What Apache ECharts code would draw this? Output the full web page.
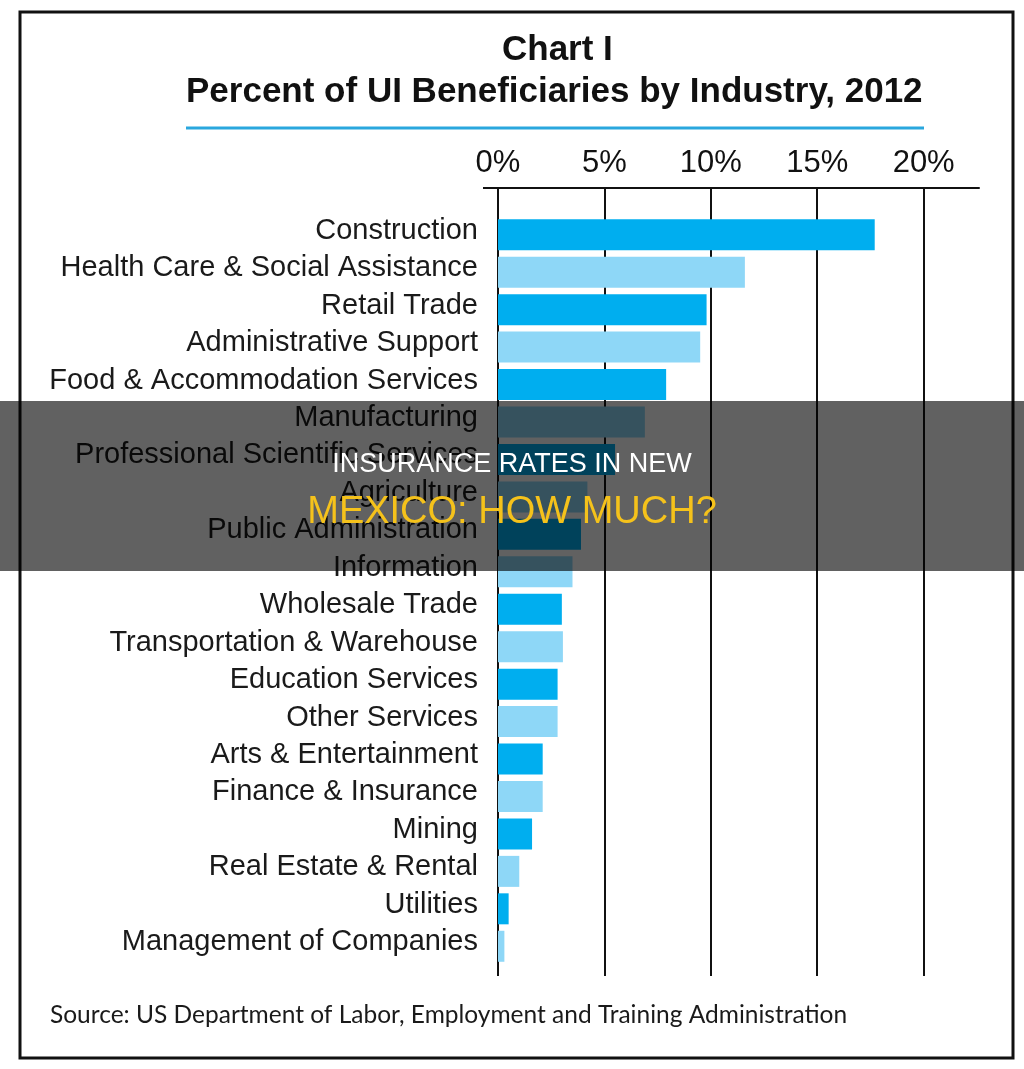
<!DOCTYPE html>
<html>
<head>
<meta charset="utf-8">
<script src="https://cdn.jsdelivr.net/npm/echarts@6/dist/echarts.min.js"></script>
<style>
  html, body { margin: 0; padding: 0; background: #fff; }
  #chart { width: 1024px; height: 1069px; }
</style>
</head>
<body>
<div id="chart"></div>
<script>
// industries, top to bottom
const industries = [
  "Construction",
  "Health Care & Social Assistance",
  "Retail Trade",
  "Administrative Support",
  "Food & Accommodation Services",
  "Manufacturing",
  "Professional Scientific Services",
  "Agriculture",
  "Public Administration",
  "Information",
  "Wholesale Trade",
  "Transportation & Warehouse",
  "Education Services",
  "Other Services",
  "Arts & Entertainment",
  "Finance & Insurance",
  "Mining",
  "Real Estate & Rental",
  "Utilities",
  "Management of Companies"
];

// percent of UI beneficiaries
const percents = [17.7, 11.6, 9.8, 9.5, 7.9, 6.9, 5.5, 4.2, 3.9, 3.5,
  3.0, 3.05, 2.8, 2.8, 2.1, 2.1, 1.6, 1.0, 0.5, 0.3];

const ticks = [0, 5, 10, 15, 20];
const axisMax = 22.6;

const titleLine1 = "Chart I";
const titleLine2 = "Percent of UI Beneficiaries by Industry, 2012";
const sourceText = "Source: US Department of Labor, Employment and Training Administration";
const bannerLine1 = "INSURANCE RATES IN NEW";
const bannerLine2 = "MEXICO: HOW MUCH?";

const barColors = ["#00AEEF", "#8ED7F7"];
const labelFont = "'Liberation Sans', Arial, sans-serif";

var chart = echarts.init(document.getElementById("chart"));

var option = {
  backgroundColor: "#fff",
  animation: false,
  title: [
    {
      text: titleLine1,
      left: 502,
      top: 33,
      padding: 0,
      textStyle: { fontFamily: labelFont, fontSize: 35, fontWeight: "bold", color: "#111" }
    },
    {
      text: titleLine2,
      left: 186,
      top: 75,
      padding: 0,
      textStyle: { fontFamily: labelFont, fontSize: 35, fontWeight: "bold", color: "#111" }
    }
  ],
  grid: [
    // grid 0 only carries the top axis and the vertical lines
    { left: 498, right: 45, top: 188, bottom: 93 },
    // grid 1 holds the bars
    { left: 498, right: 45, top: 216, bottom: 104 }
  ],
  xAxis: [
    {
      gridIndex: 0,
      type: "value",
      position: "top",
      min: 0,
      max: axisMax,
      interval: 5,
      axisLine: { show: true, onZero: false, lineStyle: { color: "#111", width: 2 } },
      axisTick: { show: false },
      axisLabel: {
        show: true,
        showMaxLabel: false,
        margin: 9,
        fontFamily: labelFont,
        fontSize: 31,
        color: "#111",
        formatter: function (v) {
          return ticks.indexOf(v) >= 0 ? v + "%" : "";
        }
      },
      splitLine: {
        show: true,
        showMaxLine: false,
        lineStyle: { color: "#111", width: 2 }
      }
    },
    {
      gridIndex: 1,
      type: "value",
      min: 0,
      max: axisMax,
      show: false
    }
  ],
  yAxis: [
    { gridIndex: 0, type: "value", show: false },
    {
      gridIndex: 1,
      type: "category",
      inverse: true,
      data: industries,
      axisLine: { show: false },
      axisTick: { show: false },
      axisLabel: {
        interval: 0,
        margin: 20,
        formatter: function (v) {
          return "{t|" + v + "}";
        },
        rich: {
          t: {
            padding: [0, 0, 8, 0],
            fontFamily: labelFont,
            fontSize: 29,
            color: "#1a1a1a"
          }
        }
      }
    }
  ],
  series: [
    {
      type: "bar",
      xAxisIndex: 1,
      yAxisIndex: 1,
      data: percents,
      barWidth: 31,
      z: 3,
      itemStyle: {
        color: function (p) {
          return barColors[p.dataIndex % 2];
        }
      }
    }
  ],
  graphic: [
    // outer frame
    {
      type: "rect",
      shape: { x: 20, y: 12, width: 993, height: 1046 },
      style: { fill: "none", stroke: "#111", lineWidth: 3 },
      z: 50
    },
    // blue rule under the title
    {
      type: "line",
      shape: { x1: 186, y1: 128, x2: 924, y2: 128 },
      style: { stroke: "#2AA7DE", lineWidth: 3 }
    },
    // small stub of the top axis line left of zero
    {
      type: "line",
      shape: { x1: 483, y1: 188, x2: 498, y2: 188 },
      style: { stroke: "#111", lineWidth: 2 }
    },
    {
      type: "text",
      left: 50,
      top: 1003,
      style: {
        text: sourceText,
        font: "24.5px Lato, 'Open Sans', sans-serif",
        fill: "#1a1a1a"
      }
    },
    // dark banner across the middle
    {
      type: "rect",
      shape: { x: 0, y: 401, width: 1024, height: 170 },
      style: { fill: "rgba(0,0,0,0.62)" },
      z: 100
    },
    {
      type: "text",
      x: 512,
      y: 465,
      z: 101,
      style: {
        text: bannerLine1,
        font: "27px 'Liberation Sans', Arial, sans-serif",
        fill: "#ffffff",
        align: "center",
        verticalAlign: "middle"
      }
    },
    {
      type: "text",
      x: 512,
      y: 513,
      z: 101,
      style: {
        text: bannerLine2,
        font: "38px 'Liberation Sans', Arial, sans-serif",
        fill: "#F5C21B",
        align: "center",
        verticalAlign: "middle"
      }
    }
  ]
};

chart.setOption(option);
</script>
</body>
</html>
